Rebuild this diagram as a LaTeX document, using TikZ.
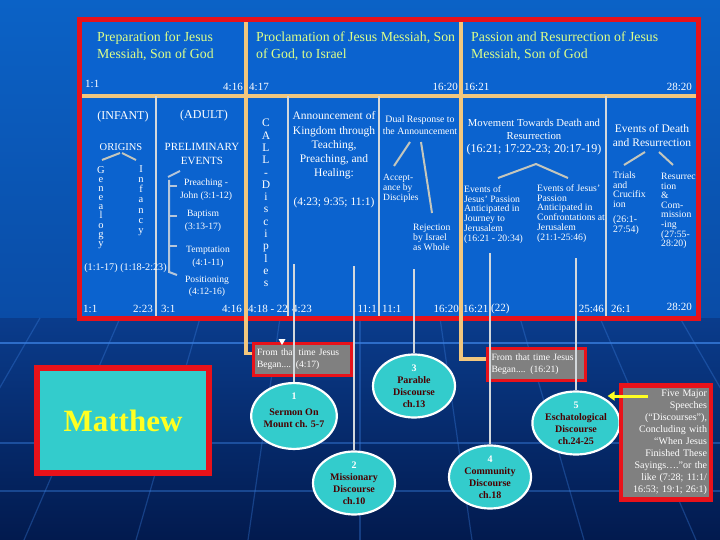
\documentclass[tikz,border=0pt]{standalone}
\usepackage{fontspec}
\setmainfont{Liberation Serif}
\usepackage{tikz}
\usetikzlibrary{arrows.meta,shapes.geometric}
\definecolor{mtSky}{HTML}{0B62C6}
\definecolor{mtLow}{HTML}{0A4CA6}
\definecolor{mtDeep}{HTML}{0A3C8C}
\definecolor{mtNavy}{HTML}{021A4E}
\definecolor{mtChart}{HTML}{0B63CF}
\definecolor{mtGrid}{HTML}{3A7FE0}
\definecolor{mtRed}{HTML}{E8121A}
\definecolor{mtTan}{HTML}{F2C77E}
\definecolor{mtRule}{HTML}{D3D8DC}
\definecolor{mtBranch}{HTML}{C4C6BC}
\definecolor{mtLime}{HTML}{DDFF88}
\definecolor{mtTeal}{HTML}{33CCCC}
\definecolor{mtWine}{HTML}{4A0000}
\definecolor{mtYellow}{HTML}{FFFF22}
\colorlet{mtGrey}{gray}
\newcommand{\mtsize}[2]{\fontsize{#1}{#2}\selectfont}
\newcommand{\dnum}[1]{{\color{white}#1}}

\begin{document}
\begin{tikzpicture}[x=1pt,y=-1pt]
    \tikzstyle{chtext}=[text=white, inner sep=0pt, align=center]
    \tikzstyle{headtext}=[text=mtLime, inner sep=0pt, align=left, anchor=west, font=\mtsize{13.8}{17}]
    \tikzstyle{verse}=[text=white, inner sep=0pt, font=\mtsize{11}{13}]
    \tikzstyle{rule}=[draw=mtRule, line width=1.6pt]
    \tikzstyle{tanrule}=[draw=mtTan, line width=3.2pt]
    \tikzstyle{branch}=[draw=mtBranch, line width=2pt]
    \tikzstyle{feeder}=[draw=mtRule, line width=1.8pt]
    \tikzstyle{discourse}=[ellipse, fill=mtTeal, draw=white, line width=2.2pt,
      minimum width=82pt, minimum height=63pt, inner sep=0pt, align=center, text=mtWine,
      font=\mtsize{10}{12}\bfseries]
    \tikzstyle{beganbox}=[rectangle, fill=mtGrey, draw=mtRed, line width=3pt, text=white,
      text width=90pt, inner xsep=4pt, minimum height=32pt, align=left, font=\mtsize{9.6}{12}]

    \useasboundingbox (0,0) rectangle (720,540);
    % background and grid
    \begin{scope}
    \clip (0,0) rectangle (720,540);
    \shade[top color=mtSky, bottom color=mtLow] (0,0) rectangle (720,318);
    \shade[top color=mtDeep, bottom color=mtNavy] (0,318) rectangle (720,540);
    \foreach \gy/\go in {343/0.75, 443/0.45, 491/0.4}
      \draw[mtGrid, line width=1.4pt, opacity=\go] (0,\gy) -- (720,\gy);
    \foreach \gx in {-120,-40,...,840}
      \draw[mtGrid, line width=1.2pt, opacity=0.35] (\gx,318) -- ({360+(\gx-360)*1.4},540);
    \end{scope}

    % chart frame
    \fill[mtChart] (79,20) rectangle (698,318);
    \draw[tanrule] (81,96) -- (696,96);
    \foreach \dx in {156,288,379,606}
      \draw[rule] (\dx,96) -- (\dx,316);
    \draw[mtRed, line width=5pt] (79,20) rectangle (698,318);

    % headings
    \node[headtext] (hPrep) at (97,46.5) {Preparation for Jesus\\Messiah, Son of God};
    \node[headtext] (hProc) at (256,46.5) {Proclamation of Jesus Messiah, Son\\of God, to Israel};
    \node[headtext] (hPass) at (471,46.5) {Passion and Resurrection of Jesus\\Messiah, Son of God};

    \node[verse, anchor=west] (v11) at (85,84) {1:1};
    \node[verse, anchor=east] (v416) at (243,87) {4:16};
    \node[verse, anchor=west] (v417) at (249,87) {4:17};
    \node[verse, anchor=east] (v1620) at (458,87) {16:20};
    \node[verse, anchor=west] (v1621) at (464,87) {16:21};
    \node[verse, anchor=east] (v2820) at (692,87) {28:20};

    % infant / adult
    \node[chtext, font=\mtsize{12}{14}] (infant) at (123,117) {(INFANT)};
    \node[chtext, font=\mtsize{12}{14}] (adult) at (204,116) {(ADULT)};
    \node[chtext, font=\mtsize{10.5}{12}] (origins) at (121,147) {ORIGINS};
    \draw[branch] (120,153) -- (102,160);
    \draw[branch] (122,153) -- (136,160);
    \node[chtext, font=\mtsize{10.5}{9.1}] (geneal) at (101,207.5) {G\\e\\n\\e\\a\\l\\o\\g\\y};
    \node[chtext, font=\mtsize{10.5}{10.2}] (infancy) at (141,200.5) {I\\n\\f\\a\\n\\c\\y};
    \node[chtext, font=\mtsize{10.2}{12}] (origRefs) at (125.5,268) {(1:1-17) (1:18-2:23)};

    \node[chtext, font=\mtsize{11}{14}] (prelim) at (202,154) {PRELIMINARY\\EVENTS};
    \draw[branch, draw=mtRule!85!mtChart] (180,171) -- (168,177);
    \draw[branch, draw=mtRule!85!mtChart] (169,180) -- (169,272) -- (177,275);
    \foreach \ty in {186,216,246}
      \draw[branch, draw=mtRule!85!mtChart] (169,\ty) -- (177,\ty);
    \node[chtext, font=\mtsize{9.6}{13}] (preach) at (206,190) {Preaching -\\John (3:1-12)};
    \node[chtext, font=\mtsize{9.6}{13}] (baptism) at (203,220.5) {Baptism\\(3:13-17)};
    \node[chtext, font=\mtsize{9.6}{13}] (tempt) at (208,256.5) {Temptation\\(4:1-11)};
    \node[chtext, font=\mtsize{9.6}{12}] (position) at (207,286) {Positioning\\(4:12-16)};

    % call / kingdom / response
    \node[chtext, font=\mtsize{11.5}{12.3}] (call) at (266,203) {C\\A\\L\\L\\-\\D\\i\\s\\c\\i\\p\\l\\e\\s};
    \node[chtext, font=\mtsize{11.5}{14.2}] (announce) at (334,145.5)
      {Announcement of\\Kingdom through\\Teaching,\\Preaching, and\\Healing:};
    \node[chtext, font=\mtsize{11.5}{14}] (annRefs) at (334,203) {(4:23; 9:35; 11:1)};

    \node[chtext, font=\mtsize{9.8}{12}] (dual) at (420,125) {Dual Response to\\the Announcement};
    \draw[branch] (410,142) -- (394,166);
    \draw[branch] (421,142) -- (432,213);
    \node[chtext, anchor=west, align=left, font=\mtsize{9.5}{10}] (accept) at (383,188) {Accept-\\ance by\\Disciples};
    \node[chtext, anchor=west, align=left, font=\mtsize{9.7}{10}] (reject) at (413,237) {Rejection\\by Israel\\as Whole};

    % passion side
    \node[chtext, font=\mtsize{10.7}{13}] (move) at (534,129.5) {Movement Towards Death and\\Resurrection};
    \node[chtext, font=\mtsize{12}{14}] (moveRefs) at (534,150) {(16:21; 17:22-23; 20:17-19)};
    \draw[branch] (498,178) -- (536,164) -- (568,178);
    \node[chtext, anchor=west, align=left, font=\mtsize{9.7}{9.8}] (journey) at (464,214.5)
      {Events of\\Jesus’ Passion\\Anticipated in\\Journey to\\Jerusalem\\(16:21 - 20:34)};
    \node[chtext, anchor=west, align=left, font=\mtsize{9.7}{9.8}] (confront) at (537,213.5)
      {Events of Jesus’\\Passion\\Anticipated in\\Confrontations at\\Jerusalem\\(21:1-25:46)};

    \node[chtext, font=\mtsize{11.5}{14}] (death) at (652,136) {Events of Death\\and Resurrection};
    \draw[branch] (645,152) -- (624,165);
    \draw[branch] (659,152) -- (673,165);
    \node[chtext, anchor=west, align=left, font=\mtsize{9.8}{9.8}] (trials) at (613,203)
      {Trials\\and\\Crucifix\\ion\\[5pt](26:1-\\27:54)};
    \node[chtext, anchor=west, align=left, font=\mtsize{9.7}{9.6}] (resur) at (661,211)
      {Resurrec\\tion\\\&\\Com-\\mission\\-ing\\(27:55-\\28:20)};

    % verses along the bottom
    \node[verse, anchor=west] (w11) at (83,309) {1:1};
    \node[verse, anchor=east] (w223) at (153,309) {2:23};
    \node[verse, anchor=west] (w31) at (161,309) {3:1};
    \node[verse, anchor=east] (w416) at (242,309) {4:16};
    \node[verse, anchor=west] (w418) at (248,309) {4:18 - 22};
    \node[verse, anchor=west] (w423) at (292,309) {4:23};
    \node[verse, anchor=east] (w111a) at (377,309) {11:1};
    \node[verse, anchor=west] (w111b) at (382,309) {11:1};
    \node[verse, anchor=east] (w1620) at (459,309) {16:20};
    \node[verse, anchor=west] (w1621) at (463,309) {16:21};
    \node[verse, anchor=west] (w22) at (491,309) {(22)};
    \node[verse, anchor=east] (w2546) at (604,309) {25:46};
    \node[verse, anchor=west] (w261) at (611,309) {26:1};
    \node[verse, anchor=east] (w2820) at (692,307) {28:20};

    % title box
    \node[fill=mtTeal, draw=mtRed, line width=6pt, minimum width=172pt, minimum height=105pt,
      text=mtYellow, font=\mtsize{31}{31}\bfseries] (matthew) at (123,420.5) {Matthew};

    % "from that time" boxes
    \node[beganbox] (b1) at (302,359.5) {From that time Jesus\\Began.... (4:17)};
    \node[beganbox] (b2) at (536.5,364) {From that time Jesus\\Began.... (16:21)};
    \coordinate (t1) at (246,22.5);
    \coordinate (t2) at (461,22.5);
    \draw[tanrule] (t1) |- ([yshift=6pt]b1.west);
    \draw[tanrule] (t2) |- ([yshift=5pt]b2.west);
    \fill[white] (278.5,339) -- (285.5,339) -- (282,345) -- cycle;

    % discourses
    \coordinate (f1) at (294,264);
    \coordinate (f2) at (354,266);
    \coordinate (f3) at (414,269);
    \coordinate (f4) at (490,253);
    \coordinate (f5) at (576,258);
    \node[discourse] (d1) at (294,416) {\dnum{1}\\[4pt]Sermon On\\Mount ch. 5-7\\~};
    \node[discourse] (d2) at (354,483) {\dnum{2}\\Missionary\\Discourse\\ch.10};
    \node[discourse] (d3) at (414,386) {\dnum{3}\\Parable\\Discourse\\ch.13};
    \node[discourse] (d4) at (490,477) {\dnum{4}\\Community\\Discourse\\ch.18};
    \node[discourse] (d5) at (576,423) {\dnum{5}\\Eschatological\\Discourse\\ch.24-25};
    \foreach \k in {1,...,5}
      \draw[feeder] (f\k) -- (d\k);

    % five speeches note
    \node[beganbox, text width=82pt, align=right, line width=4.5pt, minimum height=114pt,
      font=\mtsize{10}{12}] (five) at (666,442.5)
      {Five Major\\Speeches\\(“Discourses”),\\Concluding with\\“When Jesus\\Finished These\\Sayings….”or the\\like (7:28; 11:1/\\16:53; 19:1; 26:1)};
    \coordinate (pt) at (648,396);
    \draw[mtYellow, line width=3pt, -{Triangle[length=7pt,width=9pt]}] (pt) -- (pt -| d5.north east);
\end{tikzpicture}
\end{document}
